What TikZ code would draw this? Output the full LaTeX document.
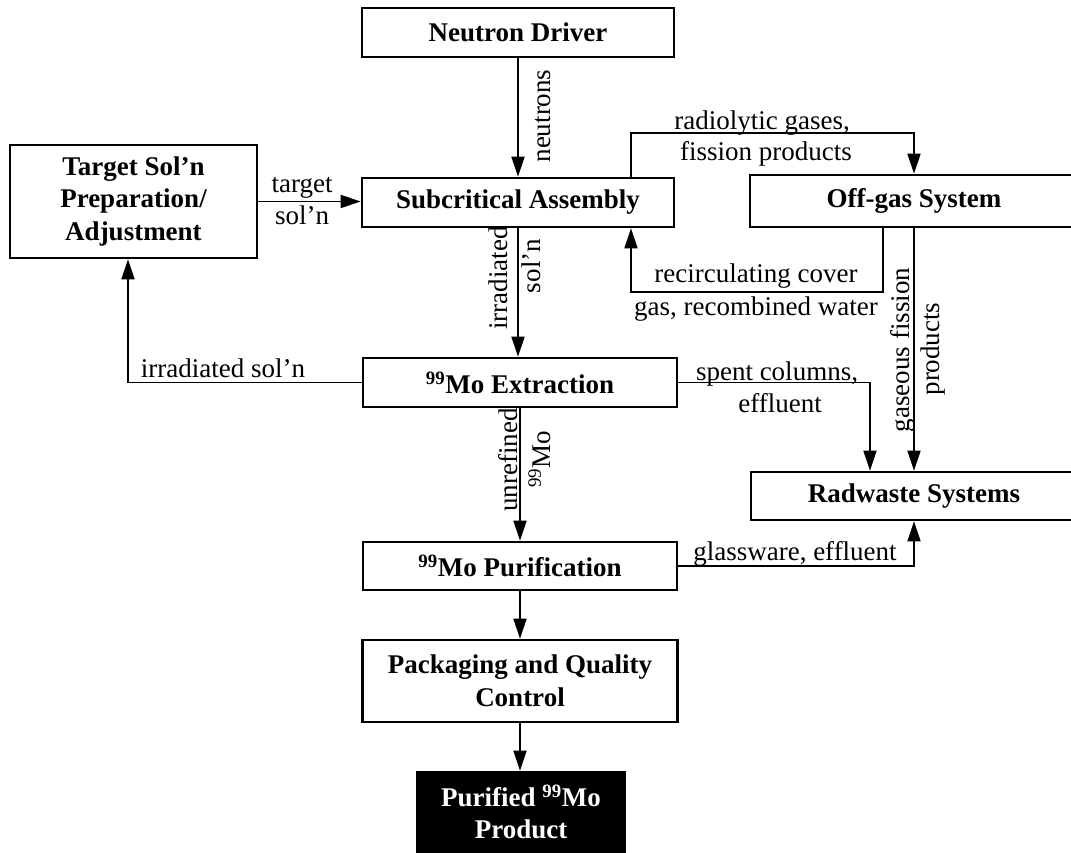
\documentclass[tikz,border=0pt]{standalone}
\usepackage{fontspec}
\setmainfont{Liberation Serif}
\usetikzlibrary{arrows.meta}
\begin{document}
\begin{tikzpicture}[x=1pt,y=-1pt,
  box/.style={draw=black,line width=2.7pt,inner sep=0pt,font=\fontsize{27}{32.5}\selectfont\bfseries,align=center},
  lbl/.style={inner sep=0pt,font=\fontsize{27}{32}\selectfont,anchor=base},
  rlbl/.style={lbl,rotate=90},
  arr/.style={line width=1.9pt,-{Triangle[length=20pt,width=13pt]}}]
\clip (0,0) rectangle (1071,853);
\fill[white] (0,0) rectangle (1071,853);
% boxes
\node[box,minimum width=312pt,minimum height=49pt] (nd) at (518,32.5) {Neutron Driver};
\node[box,minimum width=312pt,minimum height=49pt] (sa) at (518,202.5) {Subcritical Assembly};
\node[box,minimum width=247pt,minimum height=113pt] (ts) at (133.5,201.5) {Target Sol'n\\Preparation/\\Adjustment};
\node[box,minimum width=328pt,minimum height=52pt] (og) at (914,201) {Off-gas System};
\node[box,minimum width=314pt,minimum height=49pt] (ex) at (520,382.5) {\textsuperscript{99}Mo Extraction};
\node[box,minimum width=326pt,minimum height=48pt] (rw) at (914,496) {Radwaste Systems};
\node[box,minimum width=314pt,minimum height=48pt] (pu) at (520,566) {\textsuperscript{99}Mo Purification};
\node[box,minimum width=315pt,minimum height=82pt] (pq) at (520,681) {Packaging and Quality\\Control};
\node[box,fill=black,text=white,minimum width=208pt,minimum height=80pt] (pr) at (521,812) {Purified \textsuperscript{99}Mo\\Product};
% helper coordinates
\coordinate (rg) at (631,133);
\coordinate (rc) at (883,292);
\coordinate (rcl) at (631,292);
\coordinate (sp) at (870,0);
\coordinate (ir) at (128,0);
% connectors
\draw[arr] (nd) -- (sa);
\draw[arr] (ts.east) -- (ts.east -| sa.west);
\draw[arr] (sa.north -| rg) -- (rg) -| (og.north);
\draw[arr] (og.south -| rc) -- (rc) -- (rcl) -- (sa.south -| rcl);
\draw[arr] (og.south) -- (rw.north);
\draw[arr] (ex.east) -| (rw.north -| sp);
\draw[arr] (pu.east) -| (rw.south);
\draw[arr] (ex.west) -| (ts.south -| ir);
\draw[arr] (sa.south) -- (sa.south |- ex.north);
\draw[arr] (ex) -- (pu);
\draw[arr] (pu) -- (pq);
\draw[arr] (pq.south) -- (pq.south |- pr.north);
% labels
\node[rlbl] (lneu) at (550,116) {neutrons};
\node[lbl] (ltg1) at (302,193) {target};
\node[lbl] (ltg2) at (302,225) {sol'n};
\node[lbl] (lrg1) at (762,130) {radiolytic gases,};
\node[lbl] (lrg2) at (766,161) {fission products};
\node[lbl] (lrc1) at (756,283) {recirculating cover};
\node[lbl] (lrc2) at (756,315) {gas, recombined water};
\node[rlbl] (lgf1) at (909,350) {gaseous fission};
\node[rlbl] (lgf2) at (939,349) {products};
\node[rlbl] (lis1) at (507,278) {irradiated};
\node[rlbl] (lis2) at (540,266) {sol'n};
\node[lbl] (lis3) at (223,377) {irradiated sol'n};
\node[lbl] (lsc1) at (777,380) {spent columns,};
\node[lbl] (lsc2) at (780,412) {effluent};
\node[rlbl] (lum1) at (517,460) {unrefined};
\node[rlbl] (lum2) at (550,459) {\textsuperscript{99}Mo};
\node[lbl] (lgl) at (795,560) {glassware, effluent};
\end{tikzpicture}
\end{document}
